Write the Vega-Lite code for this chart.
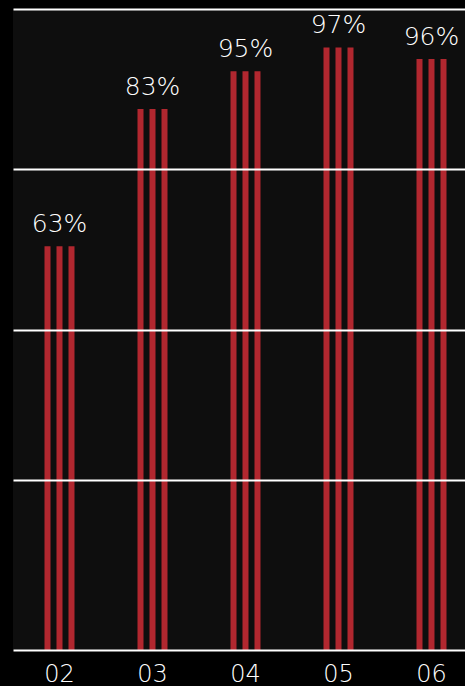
{
  "$schema": "https://vega.github.io/schema/vega-lite/v6.json",
  "autosize": {"type": "none"},
  "width": 452,
  "height": 641,
  "padding": {"left": 13, "top": 9, "right": 0, "bottom": 36},
  "background": "#000000",
  "config": {
    "view": {"stroke": null, "fill": "#0e0e0e"},
    "font": "DejaVu Sans"
  },
  "datasets": {
    "bars": [
      {"year": "02", "s": "a", "value": 63},
      {"year": "02", "s": "b", "value": 63},
      {"year": "02", "s": "c", "value": 63},
      {"year": "03", "s": "a", "value": 84.4},
      {"year": "03", "s": "b", "value": 84.4},
      {"year": "03", "s": "c", "value": 84.4},
      {"year": "04", "s": "a", "value": 90.3},
      {"year": "04", "s": "b", "value": 90.3},
      {"year": "04", "s": "c", "value": 90.3},
      {"year": "05", "s": "a", "value": 94.0},
      {"year": "05", "s": "b", "value": 94.0},
      {"year": "05", "s": "c", "value": 94.0},
      {"year": "06", "s": "a", "value": 92.2},
      {"year": "06", "s": "b", "value": 92.2},
      {"year": "06", "s": "c", "value": 92.2}
    ],
    "labels": [
      {"year": "02", "value": 63, "label": "63%"},
      {"year": "03", "value": 84.4, "label": "83%"},
      {"year": "04", "value": 90.3, "label": "95%"},
      {"year": "05", "value": 94.0, "label": "97%"},
      {"year": "06", "value": 92.2, "label": "96%"}
    ]
  },
  "encoding": {
    "x": {
      "field": "year",
      "type": "nominal",
      "sort": null,
      "scale": {"range": [0, 465], "paddingInner": 0.6129, "paddingOuter": 0.3065},
      "axis": {
        "title": null,
        "domain": false,
        "ticks": false,
        "labelAngle": 0,
        "labelColor": "#ffffff",
        "labelFontSize": 24,
        "labelFont": "DejaVu Sans",
        "labelFontWeight": 200,
        "labelBaseline": "alphabetic",
        "labelPadding": 31
      }
    },
    "y": {
      "field": "value",
      "type": "quantitative",
      "scale": {"domain": [0, 100], "nice": false, "zero": true},
      "axis": {
        "title": null,
        "labels": false,
        "ticks": false,
        "domain": false,
        "grid": true,
        "gridColor": "#ffffff",
        "gridWidth": 2.2,
        "gridOpacity": 1,
        "values": [0, 26.5, 50, 75, 100],
        "zindex": 1
      }
    }
  },
  "layer": [
    {
      "data": {"name": "bars"},
      "mark": {"type": "bar", "color": "#b1272f"},
      "encoding": {
        "xOffset": {
          "field": "s",
          "type": "nominal",
          "scale": {"paddingInner": 0.5, "paddingOuter": 0.25}
        }
      }
    },
    {
      "data": {"name": "labels"},
      "mark": {
        "type": "text",
        "color": "#ffffff",
        "fontSize": 25,
        "fontWeight": 200,
        "baseline": "alphabetic",
        "align": "center",
        "dy": -14
      },
      "encoding": {
        "text": {"field": "label", "type": "nominal"}
      }
    }
  ]
}
